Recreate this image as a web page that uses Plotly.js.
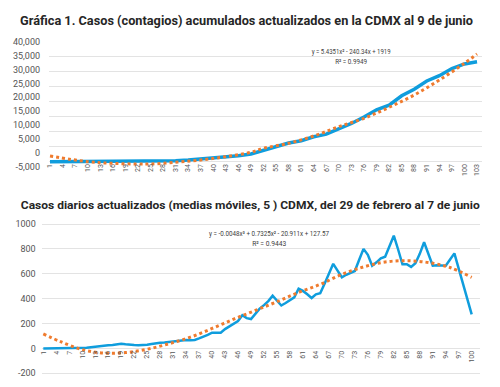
<!DOCTYPE html>
<html>
<head>
<meta charset="utf-8">
<script src="https://cdn.plot.ly/plotly-3.0.1.min.js"></script>
<style>html,body{margin:0;padding:0;background:#fff;}#chart{width:500px;height:387px;}</style>
</head>
<body>
<div id="chart"></div>
<script>
// ---- Top chart: cumulative cases (sampled days) ----
const cumDays = [1, 7, 13, 19, 25, 31, 34, 37, 40, 43, 46, 49, 52, 55, 58, 61, 64, 67, 70, 73, 76, 79, 82, 85, 88, 91, 94, 97, 100, 103];
const cumCases = [0, 5, 10, 30, 80, 300, 550, 850, 1250, 1650, 2000, 2550, 3800, 5050, 6250, 7000, 8330, 9170, 10920, 12740, 14910, 17310, 18830, 21980, 24170, 26900, 28670, 31040, 32590, 33300];
const cumTrendDays = [1, 10, 16, 22, 25, 31, 37, 43, 49, 52, 58, 64, 70, 76, 82, 88, 94, 100, 103];
const cumTrend = [1900, 0, -550, -770, -770, -200, 570, 1670, 3130, 4470, 6130, 8570, 11670, 14470, 18130, 22230, 27230, 32800, 35900];
const topTickVals = [1,4,7,10,13,16,19,22,25,28,31,34,37,40,43,46,49,52,55,58,61,64,67,70,73,76,79,82,85,88,91,94,97,100,103];
const topYTickVals = [-5000, 0, 5000, 10000, 15000, 20000, 25000, 30000, 35000, 40000];
const topYTickText = ['-5,000', '0', '5,000', '10,000', '15,000', '20,000', '25,000', '30,000', '35,000', '40,000'];

// ---- Bottom chart: daily cases (5-day moving average) ----
const dailyCases = [0,0,0,0,0,0,0,0,0,2,
  5,10,15,18,22,25,28,32,37,33,
  28,27,26,27,30,36,43,46,47,52,
  55,58,62,67,66,68,80,92,108,126,
  127,126,155,178,198,220,266,243,236,280,
  320,348,380,424,385,345,365,390,410,480,
  462,435,405,435,443,520,600,680,625,572,
  592,606,622,712,800,752,665,692,724,737,
  815,906,795,676,676,655,684,760,853,760,
  665,668,668,665,715,764,641,519,396,274];
const dailyTrendDays = [1, 5, 10, 15, 20, 25, 30, 35, 40, 45, 50, 55, 60, 65, 70, 75, 80, 85, 90, 95, 100];
const dailyTrend = [116, 54, -10, -38, -34, -7, 37, 90, 160, 235, 305, 375, 450, 515, 595, 655, 695, 705, 690, 650, 571];
const botTickVals = [1,4,7,10,13,16,19,22,25,28,31,34,37,40,43,46,49,52,55,58,61,64,67,70,73,76,79,82,85,88,91,94,97,100];
const botYTickVals = [-200, 0, 200, 400, 600, 800, 1000];
const botYTickText = ['-200', '0', '200', '400', '600', '800', '1000'];

const dailyDays = dailyCases.map((_, i) => i + 1);

const BLUE = '#0f9ddd';
const ORANGE = '#ef7b2e';
const GRID = '#e3e3e3';
const FONT = 'Roboto, "Liberation Sans", sans-serif';
const TICKC = '#555555';

const W = 500, H = 387;
const py = p => 1 - p / H;
const px = p => p / W;

const traces = [
  {x: cumDays, y: cumCases, type: 'scatter', mode: 'lines', xaxis: 'x', yaxis: 'y',
   line: {color: BLUE, width: 3.5}, hoverinfo: 'skip'},
  {x: cumTrendDays, y: cumTrend, type: 'scatter', mode: 'lines', xaxis: 'x', yaxis: 'y',
   line: {color: ORANGE, width: 3, dash: '3px,3px', shape: 'spline'}, hoverinfo: 'skip'},
  // carrier so the label-only overlay axis is drawn
  {x: [cumDays[0]], y: [null], type: 'scatter', mode: 'lines', xaxis: 'x', yaxis: 'y3',
   hoverinfo: 'skip', showlegend: false},
  {x: dailyDays, y: dailyCases, type: 'scatter', mode: 'lines', xaxis: 'x2', yaxis: 'y2',
   line: {color: BLUE, width: 2.5}, hoverinfo: 'skip'},
  {x: dailyTrendDays, y: dailyTrend, type: 'scatter', mode: 'lines', xaxis: 'x2', yaxis: 'y2',
   line: {color: ORANGE, width: 3, dash: '3px,3px', shape: 'spline'}, hoverinfo: 'skip'}
];

const layout = {
  width: W, height: H,
  margin: {l: 0, r: 0, t: 0, b: 0},
  paper_bgcolor: '#fff', plot_bgcolor: '#fff',
  showlegend: false,
  font: {family: FONT},
  xaxis: {
    domain: [px(49), px(482)], range: [0.76, 104.19],
    anchor: 'free', position: py(161.7),
    tickmode: 'array', tickvals: topTickVals, ticktext: topTickVals.map(String),
    tickangle: -90, tickfont: {family: FONT, size: 7, color: TICKC},
    showgrid: false, zeroline: false, showline: false, ticks: ''
  },
  yaxis: {
    domain: [py(177.3), py(41.1)], range: [-5200, 40200],
    tickmode: 'array', tickvals: topYTickVals,
    showticklabels: false, showgrid: true, gridcolor: GRID, gridwidth: 1,
    zeroline: false, showline: false, ticks: '', anchor: 'x'
  },
  yaxis3: {
    overlaying: 'y', anchor: 'x', side: 'left',
    range: [-8816, 40216],
    tickmode: 'array', tickvals: topYTickVals, ticktext: topYTickText,
    tickfont: {family: FONT, size: 9, color: TICKC},
    showgrid: false, zeroline: false, showline: false, ticks: '',
    ticklabelstandoff: 8
  },
  xaxis2: {
    domain: [px(41.7), px(480)], range: [0.63, 101.92],
    anchor: 'free', position: py(348.4),
    tickmode: 'array', tickvals: botTickVals, ticktext: botTickVals.map(String),
    tickangle: -90, tickfont: {family: FONT, size: 7, color: TICKC},
    showgrid: false, zeroline: false, showline: false, ticks: ''
  },
  yaxis2: {
    domain: [py(374.5), py(222.76)], range: [-210, 1010], anchor: 'x2',
    tickmode: 'array', tickvals: botYTickVals, ticktext: botYTickText,
    tickfont: {family: FONT, size: 9, color: TICKC},
    showgrid: true, gridcolor: GRID, gridwidth: 1,
    zeroline: false, showline: false, ticks: '',
    ticklabelstandoff: 5
  },
  annotations: [
    {text: '<b>Gráfica 1. Casos (contagios) acumulados actualizados en la CDMX al 9 de junio</b>',
     xref: 'paper', yref: 'paper', x: px(246.5), y: py(20.7), xanchor: 'center', yanchor: 'middle',
     showarrow: false, font: {family: FONT, size: 12, color: '#262626'}},
    {text: '<b>Casos diarios actualizados (medias móviles, 5 ) CDMX, del 29 de febrero al 7 de junio</b>',
     xref: 'paper', yref: 'paper', x: px(250.3), y: py(205), xanchor: 'center', yanchor: 'middle',
     showarrow: false, font: {family: FONT, size: 11, color: '#262626'}},
    {text: 'y = 5.4351x² - 240.34x + 1919',
     xref: 'paper', yref: 'paper', x: px(350.5), y: py(51.7), xanchor: 'center', yanchor: 'middle',
     showarrow: false, font: {family: FONT, size: 7.5, color: '#404040'}},
    {text: 'R² = 0.9949',
     xref: 'paper', yref: 'paper', x: px(351), y: py(61.7), xanchor: 'center', yanchor: 'middle',
     showarrow: false, font: {family: FONT, size: 7.5, color: '#404040'}},
    {text: 'y = -0.0048x³ + 0.7325x² - 20.911x + 127.57',
     xref: 'paper', yref: 'paper', x: px(269), y: py(233.3), xanchor: 'center', yanchor: 'middle',
     showarrow: false, font: {family: FONT, size: 7.5, color: '#404040'}},
    {text: 'R² = 0.9443',
     xref: 'paper', yref: 'paper', x: px(269), y: py(243.3), xanchor: 'center', yanchor: 'middle',
     showarrow: false, font: {family: FONT, size: 7.5, color: '#404040'}}
  ]
};

// target rendered widths (px) of the texts, as measured on the reference
const textWidths = [453, 459, 79, 32, 120, 34];

Plotly.newPlot('chart', traces, layout, {displayModeBar: false, staticPlot: true}).then(gd => {
  const texts = gd.querySelectorAll('.annotation-text');
  texts.forEach((t, i) => {
    if (textWidths[i]) {
      t.setAttribute('textLength', textWidths[i]);
      t.setAttribute('lengthAdjust', 'spacingAndGlyphs');
    }
  });
});
</script>
</body>
</html>
